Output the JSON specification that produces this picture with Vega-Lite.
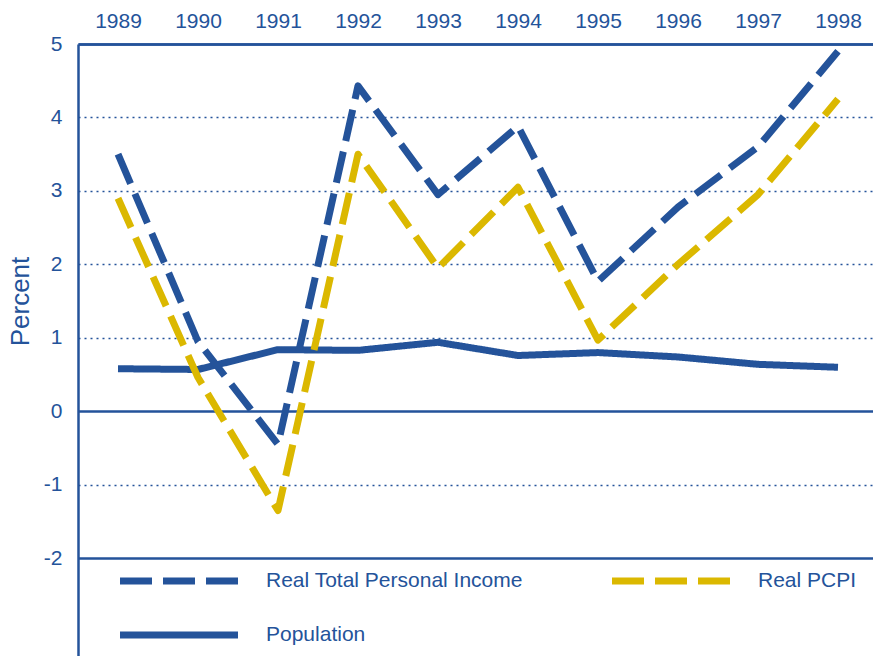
{
  "$schema": "https://vega.github.io/schema/vega-lite/v6.json",
  "width": 795,
  "height": 612,
  "autosize": {"type": "none"},
  "padding": {"left": 78, "top": 44, "right": 0, "bottom": 0},
  "background": "white",
  "config": {"view": {"stroke": null}, "font": "Liberation Sans"},
  "data": {
    "values": [
      {"year": 1989, "series": "Population", "value": 0.58},
      {"year": 1990, "series": "Population", "value": 0.57},
      {"year": 1991, "series": "Population", "value": 0.84},
      {"year": 1992, "series": "Population", "value": 0.83},
      {"year": 1993, "series": "Population", "value": 0.94},
      {"year": 1994, "series": "Population", "value": 0.76},
      {"year": 1995, "series": "Population", "value": 0.80},
      {"year": 1996, "series": "Population", "value": 0.74},
      {"year": 1997, "series": "Population", "value": 0.64},
      {"year": 1998, "series": "Population", "value": 0.60},
      {"year": 1989, "series": "Real PCPI", "value": 2.9},
      {"year": 1990, "series": "Real PCPI", "value": 0.46},
      {"year": 1991, "series": "Real PCPI", "value": -1.35},
      {"year": 1992, "series": "Real PCPI", "value": 3.5},
      {"year": 1993, "series": "Real PCPI", "value": 1.95},
      {"year": 1994, "series": "Real PCPI", "value": 3.05},
      {"year": 1995, "series": "Real PCPI", "value": 0.97},
      {"year": 1996, "series": "Real PCPI", "value": 2.0},
      {"year": 1997, "series": "Real PCPI", "value": 2.95},
      {"year": 1998, "series": "Real PCPI", "value": 4.25},
      {"year": 1989, "series": "Real Total Personal Income", "value": 3.5},
      {"year": 1990, "series": "Real Total Personal Income", "value": 0.95},
      {"year": 1991, "series": "Real Total Personal Income", "value": -0.45},
      {"year": 1992, "series": "Real Total Personal Income", "value": 4.43},
      {"year": 1993, "series": "Real Total Personal Income", "value": 2.95},
      {"year": 1994, "series": "Real Total Personal Income", "value": 3.88},
      {"year": 1995, "series": "Real Total Personal Income", "value": 1.77},
      {"year": 1996, "series": "Real Total Personal Income", "value": 2.78},
      {"year": 1997, "series": "Real Total Personal Income", "value": 3.6},
      {"year": 1998, "series": "Real Total Personal Income", "value": 4.9}
    ]
  },
  "mark": {"type": "line", "strokeWidth": 7, "strokeJoin": "round", "strokeCap": "butt"},
  "encoding": {
    "x": {
      "field": "year",
      "type": "quantitative",
      "scale": {"domain": [1988.5, 1998.4375], "nice": false, "zero": false},
      "axis": {
        "orient": "top",
        "values": [1989, 1990, 1991, 1992, 1993, 1994, 1995, 1996, 1997, 1998],
        "format": "d",
        "title": null,
        "grid": false,
        "ticks": false,
        "domainColor": "#24539a",
        "domainWidth": 2.5,
        "labelFontSize": 21,
        "labelColor": "#24539a",
        "labelPadding": 13,
        "labelFlush": false,
        "labelOverlap": false
      }
    },
    "y": {
      "field": "value",
      "type": "quantitative",
      "scale": {"domain": [-3.33, 5], "nice": false, "zero": false},
      "axis": {
        "values": [-2, -1, 0, 1, 2, 3, 4, 5],
        "labelExpr": "'' + datum.value",
        "title": "Percent",
        "titleFontSize": 26,
        "titleFontWeight": "normal",
        "titleColor": "#24539a",
        "titleX": -50,
        "titleY": 257,
        "titleAngle": -90,
        "titleAlign": "center",
        "titleBaseline": "alphabetic",
        "ticks": false,
        "domainColor": "#24539a",
        "domainWidth": 2.5,
        "labelFontSize": 21,
        "labelColor": "#24539a",
        "labelPadding": 16,
        "labelFlush": false,
        "labelOverlap": false,
        "grid": true,
        "gridColor": "#24539a",
        "gridDash": {"condition": {"test": "datum.value == 0 || datum.value == -2 || datum.value == 5", "value": [1, 0]}, "value": [2, 4]},
        "gridWidth": {"condition": {"test": "datum.value == 0 || datum.value == -2 || datum.value == 5", "value": 2.5}, "value": 1.5}
      }
    },
    "color": {
      "field": "series",
      "type": "nominal",
      "scale": {
        "domain": ["Real Total Personal Income", "Real PCPI", "Population"],
        "range": ["#24539a", "#dbb800", "#24539a"]
      },
      "legend": {
        "title": null,
        "orient": "none",
        "direction": "horizontal",
        "legendX": 68,
        "legendY": 504,
        "columns": 2,
        "symbolType": "M-2,0H2",
        "symbolSize": 3481,
        "symbolStrokeWidth": 7,
        "labelFontSize": 21,
        "labelColor": "#24539a",
        "labelOffset": 54,
        "labelLimit": 400,
        "columnPadding": 75,
        "rowPadding": 7
      }
    },
    "strokeDash": {
      "field": "series",
      "type": "nominal",
      "scale": {
        "domain": ["Real Total Personal Income", "Real PCPI", "Population"],
        "range": [[32, 11], [32, 11], [1, 0]]
      },
      "legend": {
        "title": null,
        "orient": "none",
        "direction": "horizontal",
        "legendX": 68,
        "legendY": 504,
        "columns": 2,
        "symbolType": "M-2,0H2",
        "symbolSize": 3481,
        "symbolStrokeWidth": 7,
        "labelFontSize": 21,
        "labelColor": "#24539a",
        "labelOffset": 54,
        "labelLimit": 400,
        "columnPadding": 75,
        "rowPadding": 7
      }
    }
  }
}
